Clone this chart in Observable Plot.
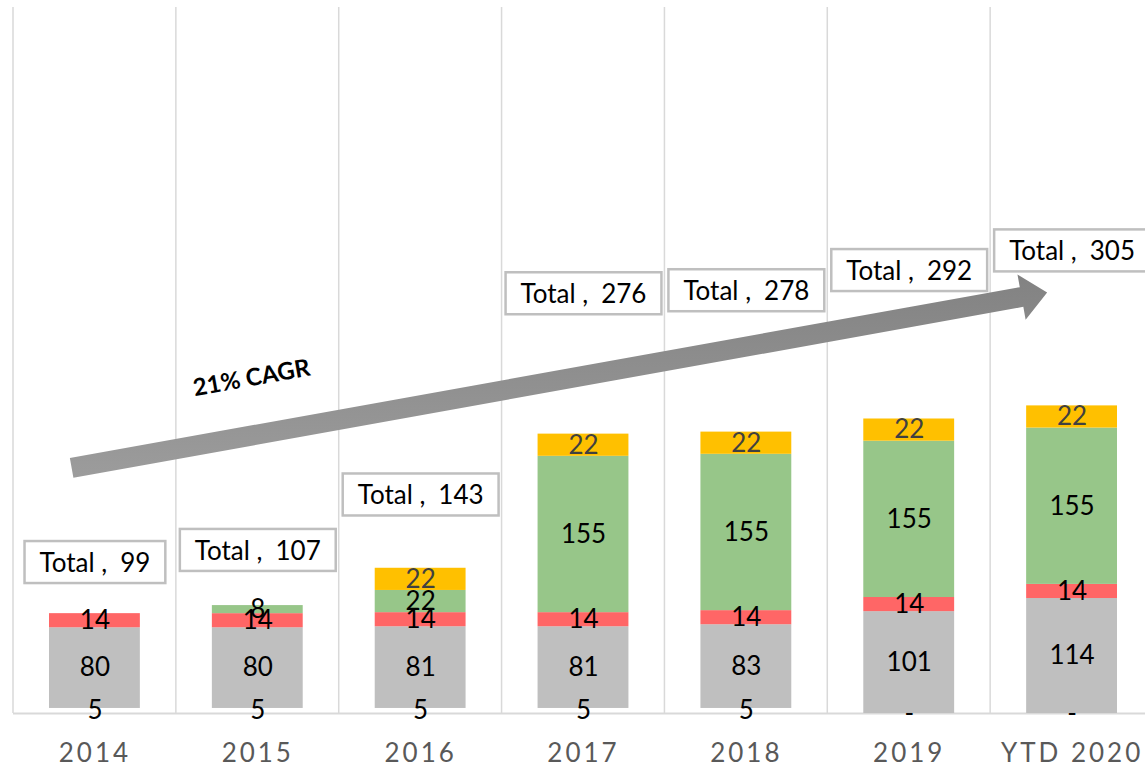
<!DOCTYPE html>
<html><head><meta charset="utf-8">
<script src="https://cdn.jsdelivr.net/npm/d3@7"></script>
<script src="https://cdn.jsdelivr.net/npm/@observablehq/plot@0.6"></script>
<style>
html,body{margin:0;padding:0;background:#fff;overflow:hidden;}
#chart svg{display:block;}
g[aria-label^="x-axis"] text{fill:#595959;letter-spacing:3px;font-size:26px;}
</style></head><body><div id="chart"></div>
<script>
// ---- data ----
const years = ["2014", "2015", "2016", "2017", "2018", "2019", "YTD 2020"];
const baseVals   = [5, 5, 5, 5, 5, 0, 0];
const greyVals   = [80, 80, 81, 81, 83, 101, 114];
const redVals    = [14, 14, 14, 14, 14, 14, 14];
const greenVals  = [0, 8, 22, 155, 155, 155, 155];
const yellowVals = [0, 0, 22, 22, 22, 22, 22];
const totals     = [99, 107, 143, 276, 278, 292, 305];
const seriesNames = ["Base", "Grey", "Red", "Green", "Yellow", "Total"];
const cagrLabel = "21% CAGR";
const arrowStartY = 243;   // value units
const arrowEndY = 417;     // value units

// ---- styles ----
const seriesColors = ["none", "#bfbfbf", "#ff6666", "#97c689", "#ffc000", "none"];
const labelColors  = ["#000", "#000", "#000", "#000", "#404040", "#000"];
const FONT = "Lato, 'Open Sans', sans-serif";

const seriesValues = [baseVals, greyVals, redVals, greenVals, yellowVals, totals];
const rows = [];
seriesNames.forEach((s, si) => years.forEach((yr, i) =>
  rows.push({year: yr, series: s, si, value: seriesValues[si][i]})));

const ns = "http://www.w3.org/2000/svg";

function gridMark(index, scales, values, dim) {
  const g = d3.create("svg:g");
  const bw = (dim.width - dim.marginLeft - dim.marginRight) / years.length;
  const xs = years.map(y => scales.x(y));
  xs.push(xs[xs.length - 1] + bw);
  g.selectAll("line").data(xs).join("line")
    .attr("x1", d => d).attr("x2", d => d)
    .attr("y1", scales.y(700)).attr("y2", scales.y(0))
    .attr("stroke", "#d9d9d9").attr("stroke-width", 1.5);
  return g.node();
}

function arrowMark(index, scales, values, dim) {
  const g = d3.create("svg:g");
  const bw = (dim.width - dim.marginLeft - dim.marginRight) / years.length;
  const x0 = scales.x(years[0]) + 0.36 * bw, y0 = scales.y(arrowStartY);
  const x1 = scales.x(years[years.length - 1]) + 0.35 * bw, y1 = scales.y(arrowEndY);
  const L = Math.hypot(x1 - x0, y1 - y0);
  const ux = (x1 - x0) / L, uy = (y1 - y0) / L;
  const nx = uy, ny = -ux; // perpendicular, pointing up
  const h = 26, s = 10, w = 23;
  const local = [[0, s], [L - h, s], [L - h, w], [L, 0], [L - h, -w], [L - h, -s], [0, -s]];
  const pts = local.map(([a, b]) => [x0 + a * ux + b * nx, y0 + a * uy + b * ny]);
  const defs = g.append("defs");
  const grad = defs.append("linearGradient").attr("id", "arrowGrad")
    .attr("x1", 0).attr("y1", 0).attr("x2", 0).attr("y2", 1);
  grad.append("stop").attr("offset", "0%").attr("stop-color", "#828282");
  grad.append("stop").attr("offset", "100%").attr("stop-color", "#9c9c9c");
  g.append("polygon").attr("points", pts.map(p => p.join(",")).join(" "))
    .attr("fill", "url(#arrowGrad)");
  const angle = Math.atan2(uy, ux) * 180 / Math.PI;
  const tx = x0 + 193 * ux + 55 * nx, ty = y0 + 193 * uy + 55 * ny;
  g.append("text").attr("transform", `translate(${tx},${ty}) rotate(${angle})`)
    .attr("text-anchor", "middle").attr("dominant-baseline", "middle")
    .attr("font-family", FONT).attr("font-weight", 700).attr("font-size", 24)
    .attr("fill", "#000").text(cagrLabel);
  return g.node();
}

const chart = Plot.plot({
  width: 1145,
  height: 768,
  marginLeft: 13,
  marginRight: -8,
  marginTop: 7,
  marginBottom: 55,
  style: {fontFamily: FONT, fontSize: "26px", background: "#fff", maxWidth: "none", overflow: "hidden"},
  x: {domain: years, padding: 0, round: false, label: null, tickSize: 0, tickPadding: 30},
  y: {domain: [0, 700], axis: null},
  color: {type: "identity"},
  marks: [
    gridMark,
    Plot.ruleY([0], {stroke: "#d9d9d9", strokeWidth: 2}),
    Plot.barY(rows, Plot.stackY({x: "year", y: "value", z: "series",
      fill: d => seriesColors[d.si], insetLeft: 36, insetRight: 36})),
    Plot.text(rows, Plot.stackY({x: "year", y: "value", z: "series",
      text: d => d.series === "Total" ? null : (d.value === 0 ? (d.si === 0 ? "-" : null) : String(d.value)),
      fill: d => labelColors[d.si], fontSize: 26})),
    arrowMark,
    Plot.text(rows, Plot.stackY({x: "year", y: "value", z: "series",
      text: d => d.series === "Total" ? `Total ,\u2002${d.value}` : null,
      fill: "#000", fontSize: 26}))
  ]
});

document.getElementById("chart").appendChild(chart);

// boxes behind total labels
chart.querySelectorAll("text").forEach(t => {
  if (!t.textContent.startsWith("Total ,")) return;
  const b = t.getBBox();
  const r = document.createElementNS(ns, "rect");
  r.setAttribute("x", b.x - 15);
  r.setAttribute("y", b.y - 5);
  r.setAttribute("width", b.width + 30);
  r.setAttribute("height", b.height + 10);
  r.setAttribute("fill", "#fff");
  r.setAttribute("stroke", "#bfbfbf");
  r.setAttribute("stroke-width", 2.5);
  const tr = t.getAttribute("transform");
  if (tr) r.setAttribute("transform", tr);
  t.parentNode.insertBefore(r, t);
});
</script></body></html>
